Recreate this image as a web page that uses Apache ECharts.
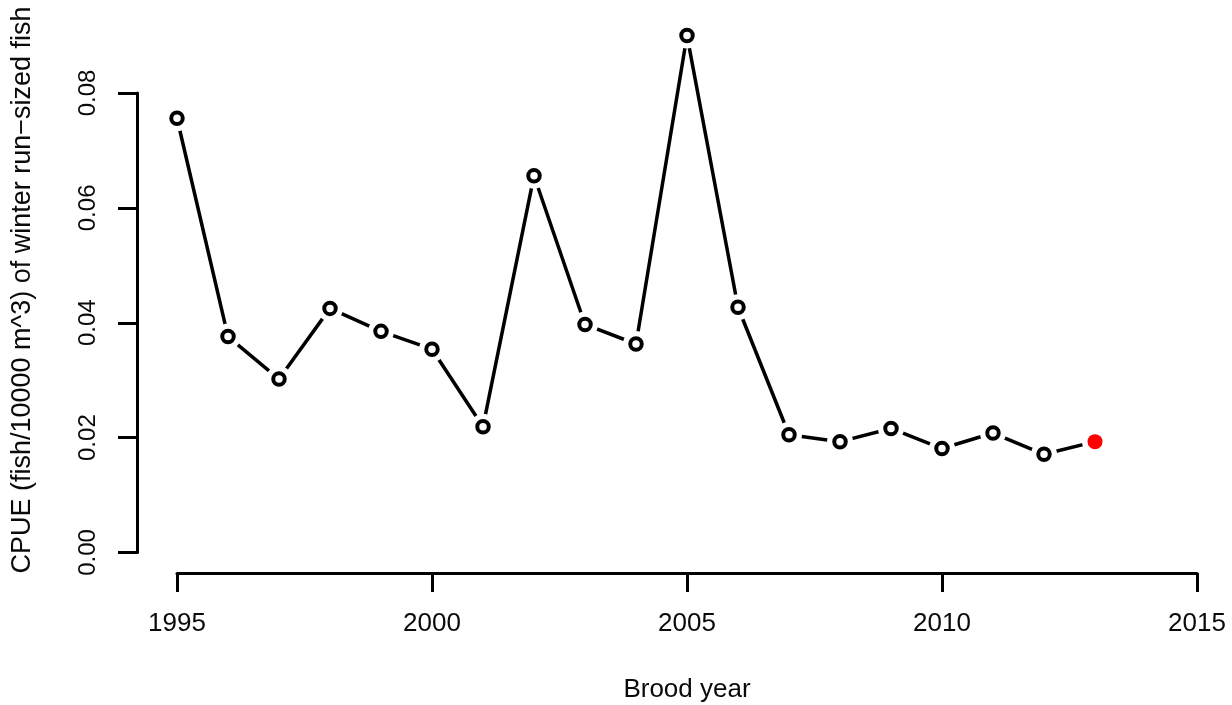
<!DOCTYPE html>
<html>
<head>
<meta charset="utf-8">
<script src="https://cdn.jsdelivr.net/npm/echarts@6/dist/echarts.min.js"></script>
<style>
  html, body { margin: 0; padding: 0; background: #ffffff; }
  #chart { width: 1232px; height: 705px; }
</style>
</head>
<body>
<div id="chart"></div>
<script>
// Brood years and catch per unit effort of winter run-sized fish
const years = [1995, 1996, 1997, 1998, 1999, 2000, 2001, 2002, 2003, 2004,
               2005, 2006, 2007, 2008, 2009, 2010, 2011, 2012, 2013];
const cpue = [0.0756, 0.0376, 0.0302, 0.0425, 0.0385, 0.0354, 0.0219, 0.0656, 0.0397, 0.0363,
              0.0900, 0.0427, 0.0205, 0.0193, 0.0216, 0.0181, 0.0208, 0.0171, 0.0193];
// The most recent year is highlighted
const latestYear = 2013;

const xTicks = [1995, 2000, 2005, 2010, 2015];
const yTicks = [0.00, 0.02, 0.04, 0.06, 0.08];

const xTitle = 'Brood year';
const yTitle = 'CPUE (fish/10000 m^3) of winter run\u2212sized fish';

const pairs = years.map((y, i) => [y, cpue[i]]);
const pastPts = pairs.filter(p => p[0] !== latestYear);
const latestPts = pairs.filter(p => p[0] === latestYear);

const FONT = '"Liberation Sans", Arial, sans-serif';
const INK = '#000000';
const TXT = '#0a0a0a';

const chart = echarts.init(document.getElementById('chart'), null, { renderer: 'canvas' });

chart.setOption({
  animation: false,
  backgroundColor: '#ffffff',
  grid: { left: 177, right: 35, top: 93, bottom: 152.5, containLabel: false, outerBoundsMode: 'none' },
  xAxis: {
    type: 'value',
    min: xTicks[0],
    max: xTicks[xTicks.length - 1],
    interval: 5,
    offset: 20.5,
    name: xTitle,
    nameLocation: 'middle',
    nameGap: 104,
    nameTextStyle: { fontFamily: FONT, fontSize: 26, color: TXT },
    axisLine: { show: true, onZero: false, lineStyle: { color: INK, width: 3 } },
    axisTick: { show: true, length: 19, lineStyle: { color: INK, width: 3 } },
    axisLabel: { margin: 38, fontFamily: FONT, fontSize: 26, color: TXT,
                 formatter: v => String(v), showMinLabel: true, showMaxLabel: true },
    splitLine: { show: false }
  },
  yAxis: {
    type: 'value',
    min: yTicks[0],
    max: yTicks[yTicks.length - 1],
    interval: 0.02,
    offset: 40,
    axisLine: { show: true, onZero: false, lineStyle: { color: INK, width: 3 } },
    axisTick: { show: true, length: 19, lineStyle: { color: INK, width: 3 } },
    axisLabel: { rotate: 90, margin: 37, fontFamily: FONT, fontSize: 24, color: TXT,
                 formatter: v => v.toFixed(2), showMinLabel: true, showMaxLabel: true },
    splitLine: { show: false }
  },
  graphic: [{
    type: 'text',
    x: 23,
    y: 290,
    rotation: Math.PI / 2,
    silent: true,
    style: {
      text: yTitle,
      font: '27px ' + FONT,
      fill: TXT,
      align: 'center',
      verticalAlign: 'middle'
    }
  }],
  series: [
    {
      // connecting line
      type: 'line',
      data: pairs,
      symbol: 'none',
      clip: false,
      silent: true,
      z: 2,
      lineStyle: { color: INK, width: 3.5 }
    },
    {
      // white halo leaving a gap between line and points
      type: 'scatter',
      data: pairs,
      symbol: 'circle',
      symbolSize: 26,
      clip: false,
      silent: true,
      z: 3,
      itemStyle: { color: '#ffffff', opacity: 1, borderWidth: 0 }
    },
    {
      type: 'scatter',
      data: pastPts,
      symbol: 'circle',
      symbolSize: 11.5,
      clip: false,
      silent: true,
      z: 4,
      itemStyle: { color: '#ffffff', opacity: 1, borderColor: INK, borderWidth: 4 }
    },
    {
      type: 'scatter',
      data: latestPts,
      symbol: 'circle',
      symbolSize: 15,
      clip: false,
      silent: true,
      z: 4,
      itemStyle: { color: '#ff0000', opacity: 1, borderWidth: 0 }
    }
  ]
});
</script>
</body>
</html>
